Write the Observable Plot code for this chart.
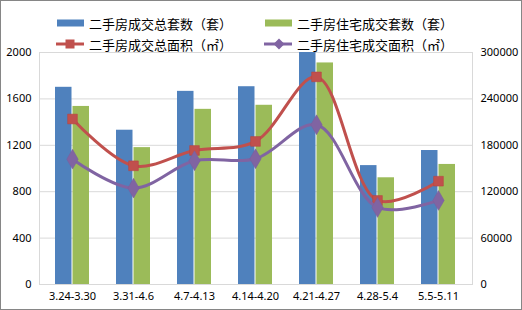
<!DOCTYPE html>
<html><head><meta charset="utf-8">
<script src="https://cdn.jsdelivr.net/npm/d3@7"></script>
<script src="https://cdn.jsdelivr.net/npm/@observablehq/plot@0.6"></script>
<style>
body{margin:0;background:#fff;}
#wrap{position:relative;width:522px;height:310px;box-sizing:border-box;border:1px solid #868686;overflow:hidden;}
#legend{position:absolute;left:0;top:0;width:520px;height:50px;font-family:"Noto Sans CJK SC",sans-serif;font-size:13px;color:#000;}
.item{position:absolute;display:flex;align-items:center;height:16px;}
.item svg{margin-right:5px;}
</style></head>
<body><div id="wrap"><div id="legend"></div></div>
<script>
const categories = ["3.24-3.30","3.31-4.6","4.7-4.13","4.14-4.20","4.21-4.27","4.28-5.4","5.5-5.11"];
const totalUnits = [1700,1330,1665,1705,2000,1025,1155];
const residentialUnits = [1535,1180,1510,1545,1910,920,1035];
const totalArea = [214000,153500,173300,185000,268500,108700,133600];
const residentialArea = [162000,124600,160000,162600,206600,99600,108700];
const leftTicks = [0,400,800,1200,1600,2000];
const rightTicks = [0,60000,120000,180000,240000,300000];
const seriesNames = ["二手房成交总套数（套）","二手房住宅成交套数（套）","二手房成交总面积（㎡）","二手房住宅成交面积（㎡）"];
const colors = ["#4f81bd","#9bbb59","#c0504d","#8064a2"];

const ratio = rightTicks[rightTicks.length-1] / leftTicks[leftTicks.length-1];
const data = categories.map((c,i)=>({cat:c,total:totalUnits[i],res:residentialUnits[i],tArea:totalArea[i]/ratio,rArea:residentialArea[i]/ratio}));

const font = "Noto Sans, sans-serif";
const chart = Plot.plot({
  width:520, height:308,
  marginLeft:38, marginRight:49, marginTop:51, marginBottom:25,
  style:{fontFamily:font,fontSize:"11px",color:"#000",background:"transparent"},
  x:{type:"band",domain:categories,paddingInner:0.435,paddingOuter:0.21,label:null},
  y:{domain:[0,2000],label:null},
  marks:[
    Plot.ruleY(leftTicks,{stroke:"#d9d9d9",strokeWidth:1}),
    Plot.frame({stroke:"#d9d9d9"}),
    Plot.barY(data,{x:"cat",y:"total",fill:colors[0],insetRight:17.5,insetLeft:0}),
    Plot.barY(data,{x:"cat",y:"res",fill:colors[1],insetLeft:17.5,insetRight:0}),
    Plot.line(data,{x:"cat",y:"tArea",curve:"catmull-rom",stroke:colors[2],strokeWidth:3}),
    Plot.dot(data,{x:"cat",y:"tArea",symbol:"square",r:5.5,fill:colors[2],stroke:"#b8433f",strokeWidth:0.5}),
    Plot.line(data,{x:"cat",y:"rArea",curve:"catmull-rom",stroke:colors[3],strokeWidth:3}),
    Plot.dot(data,{x:"cat",y:"rArea",symbol:"diamond",r:6,fill:colors[3],stroke:"#7a5d9c",strokeWidth:0.5}),
    Plot.axisY(leftTicks,{anchor:"left",tickSize:0,tickPadding:8,label:null,tickFormat:d=>String(d)}),
    Plot.axisY(leftTicks,{anchor:"right",tickSize:0,tickPadding:8,label:null,tickFormat:(d,i)=>String(rightTicks[i])}),
    Plot.axisX({tickSize:0,tickPadding:8,label:null})
  ]
});
document.getElementById("wrap").appendChild(chart);

const legend = document.getElementById("legend");
const pos = [[55,14],[263,14],[55,35],[263,35]];
seriesNames.forEach((name,i)=>{
  const it = document.createElement("div");
  it.className="item";
  it.style.left=pos[i][0]+"px"; it.style.top=pos[i][1]+"px";
  let sw;
  if(i<2){
    sw = `<svg width="28" height="16"><rect x="1" y="4.5" width="27" height="7" fill="${colors[i]}"/></svg>`;
  } else if(i===2){
    sw = `<svg width="28" height="16"><line x1="0" y1="8" x2="28" y2="8" stroke="${colors[i]}" stroke-width="3"/><rect x="9.5" y="3.5" width="9" height="9" fill="${colors[i]}"/></svg>`;
  } else {
    sw = `<svg width="28" height="16"><line x1="0" y1="8" x2="28" y2="8" stroke="${colors[i]}" stroke-width="3"/><path d="M15,2.5L20.5,8L15,13.5L9.5,8Z" fill="${colors[i]}"/></svg>`;
  }
  it.innerHTML = sw + `<span>${name}</span>`;
  legend.appendChild(it);
});
</script></body></html>
